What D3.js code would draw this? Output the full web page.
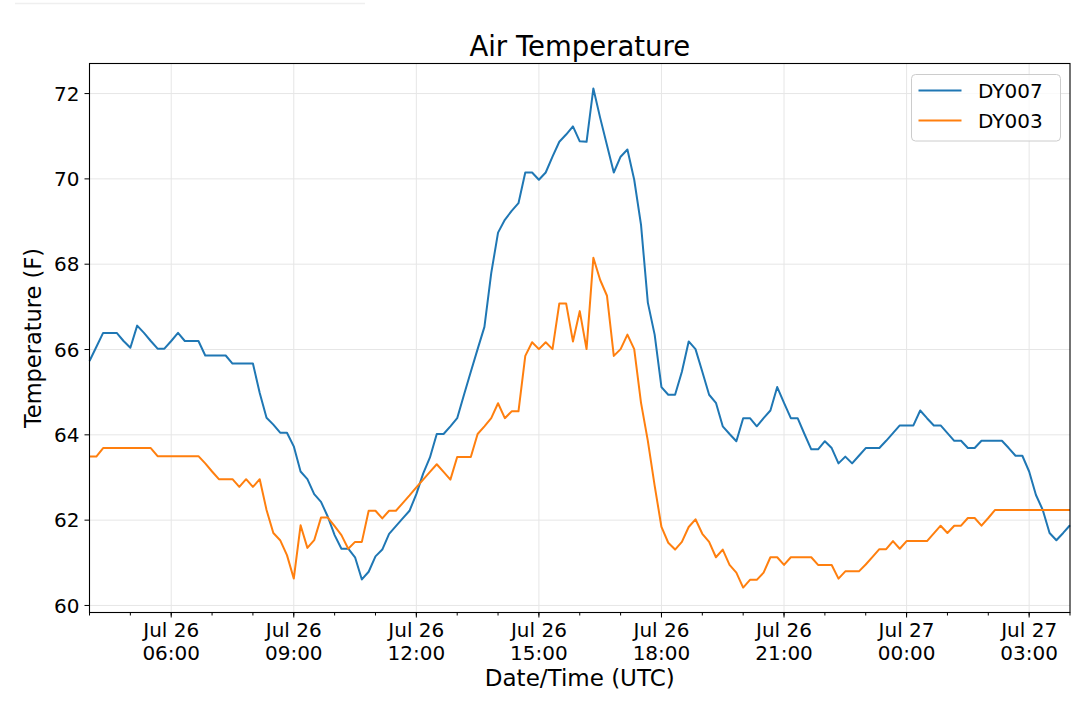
<!DOCTYPE html>
<html>
<head>
<meta charset="utf-8">
<script src="https://cdn.jsdelivr.net/npm/d3@7"></script>
<style>
  body { margin: 0; background: #fff; }
  svg { display: block; font-family: "DejaVu Sans", sans-serif; }
</style>
</head>
<body>
<div id="chart"></div>
<script>
// readings every 10 minutes, starting Jul 26 04:00 UTC
var startTime = Date.UTC(2019, 6, 26, 4, 0);
var stepMinutes = 10;

var seriesNames = ["DY007", "DY003"];
var seriesColors = ["#1f77b4", "#ff7f0e"];

var dy007 = [
  65.73, 66.06, 66.39, 66.39, 66.39, 66.2, 66.04, 66.56, 66.39, 66.2,
  66.02, 66.02, 66.2, 66.39, 66.2, 66.2, 66.2, 65.86, 65.86, 65.86,
  65.86, 65.67, 65.67, 65.67, 65.67, 64.98, 64.4, 64.24, 64.05, 64.05,
  63.73, 63.14, 62.96, 62.61, 62.43, 62.08, 61.65, 61.33, 61.33, 61.13,
  60.61, 60.79, 61.15, 61.31, 61.68, 61.86, 62.04, 62.22, 62.61, 63.09,
  63.47, 64.02, 64.02, 64.2, 64.39, 64.94, 65.48, 66.01, 66.53, 67.79,
  68.74, 69.04, 69.25, 69.43, 70.15, 70.15, 69.98, 70.15, 70.52, 70.87,
  71.04, 71.23, 70.88, 70.87, 72.12, 71.43, 70.79, 70.15, 70.52, 70.69,
  69.98, 68.92, 67.1, 66.35, 65.12, 64.94, 64.94, 65.48, 66.19, 66.01,
  65.48, 64.94, 64.75, 64.2, 64.02, 63.85, 64.39, 64.39, 64.2, 64.39,
  64.57, 65.12, 64.75, 64.39, 64.39, 64.02, 63.66, 63.66, 63.85, 63.69,
  63.33, 63.49, 63.33, 63.51, 63.69, 63.69, 63.69, 63.86, 64.04, 64.22,
  64.22, 64.22, 64.57, 64.39, 64.22, 64.22, 64.04, 63.86, 63.86, 63.69,
  63.69, 63.86, 63.86, 63.86, 63.86, 63.69, 63.51, 63.51, 63.14, 62.59,
  62.24, 61.7, 61.53, 61.7, 61.88
];

var dy003 = [
  63.49, 63.49, 63.69, 63.69, 63.69, 63.69, 63.69, 63.69, 63.69, 63.69,
  63.5, 63.5, 63.5, 63.5, 63.5, 63.5, 63.5, 63.33, 63.14, 62.96,
  62.96, 62.96, 62.78, 62.96, 62.78, 62.96, 62.24, 61.7, 61.53, 61.18,
  60.63, 61.88, 61.35, 61.53, 62.06, 62.06, 61.86, 61.65, 61.33, 61.49,
  61.49, 62.22, 62.22, 62.04, 62.22, 62.22, 62.4, 62.58, 62.77, 62.95,
  63.13, 63.31, 63.13, 62.95, 63.48, 63.48, 63.48, 64.02, 64.2, 64.39,
  64.74, 64.39, 64.55, 64.55, 65.85, 66.17, 66.01, 66.17, 66.01, 67.08,
  67.08, 66.19, 66.9, 66.01, 68.15, 67.63, 67.26, 65.85, 66.01, 66.35,
  66.01, 64.75, 63.86, 62.81, 61.84, 61.47, 61.31, 61.49, 61.84, 62.02,
  61.68, 61.49, 61.13, 61.31, 60.95, 60.77, 60.42, 60.6, 60.6, 60.77,
  61.13, 61.13, 60.95, 61.13, 61.13, 61.13, 61.13, 60.95, 60.95, 60.95,
  60.63, 60.8, 60.8, 60.8, 60.96, 61.14, 61.32, 61.32, 61.51, 61.33,
  61.51, 61.51, 61.51, 61.51, 61.69, 61.87, 61.7, 61.87, 61.87, 62.05,
  62.05, 61.87, 62.05, 62.24, 62.24, 62.24, 62.24, 62.24, 62.24, 62.24,
  62.24, 62.24, 62.24, 62.24, 62.24
];

var yTicks = [60, 62, 64, 66, 68, 70, 72];

var width = 1080, height = 701;
var margin = {top: 63.5, right: 10, bottom: 88.5, left: 89.5};
var innerW = width - margin.left - margin.right;
var innerH = height - margin.top - margin.bottom;

var series = [dy007, dy003].map(function(vals, k) {
  return {
    name: seriesNames[k],
    color: seriesColors[k],
    values: vals.map(function(v, i) {
      return {t: new Date(startTime + i * stepMinutes * 60000), v: v};
    })
  };
});

var svg = d3.select("#chart").append("svg")
  .attr("width", width)
  .attr("height", height);

// faint strip left over at the top of the screenshot
svg.append("line")
  .attr("x1", 15).attr("x2", 365).attr("y1", 3.5).attr("y2", 3.5)
  .attr("stroke", "#efefef").attr("stroke-width", 1.5);

var g = svg.append("g")
  .attr("transform", "translate(" + margin.left + "," + margin.top + ")");

var allTimes = series[0].values.map(function(d) { return d.t; });
var x = d3.scaleUtc()
  .domain(d3.extent(allTimes))
  .range([0, innerW]);

// matplotlib-like 5% margins on y
var allVals = dy007.concat(dy003);
var yMin = d3.min(allVals), yMax = d3.max(allVals);
var pad = (yMax - yMin) * 0.05;
var y = d3.scaleLinear()
  .domain([yMin - pad, yMax + pad])
  .range([innerH, 0]);

var majorTicks = x.ticks(d3.utcHour.every(3));
var minorTicks = x.ticks(d3.utcHour.every(1));

// grid
g.append("g").selectAll("line").data(majorTicks).enter().append("line")
  .attr("x1", function(d) { return x(d); })
  .attr("x2", function(d) { return x(d); })
  .attr("y1", 0).attr("y2", innerH)
  .attr("stroke", "#e6e6e6").attr("stroke-width", 1);
g.append("g").selectAll("line").data(yTicks).enter().append("line")
  .attr("x1", 0).attr("x2", innerW)
  .attr("y1", function(d) { return y(d); })
  .attr("y2", function(d) { return y(d); })
  .attr("stroke", "#e6e6e6").attr("stroke-width", 1);

// lines
var line = d3.line()
  .x(function(d) { return x(d.t); })
  .y(function(d) { return y(d.v); });

g.selectAll(".series").data(series).enter().append("path")
  .attr("class", "series")
  .attr("d", function(d) { return line(d.values); })
  .attr("fill", "none")
  .attr("stroke", function(d) { return d.color; })
  .attr("stroke-width", 2)
  .attr("stroke-linejoin", "round");

// x axis
var xAxis = g.append("g").attr("transform", "translate(0," + innerH + ")");
xAxis.selectAll(".minor").data(minorTicks).enter().append("line")
  .attr("x1", function(d) { return x(d); })
  .attr("x2", function(d) { return x(d); })
  .attr("y1", 0).attr("y2", 3)
  .attr("stroke", "#000").attr("stroke-width", 1);
xAxis.selectAll(".major").data(majorTicks).enter().append("line")
  .attr("x1", function(d) { return x(d); })
  .attr("x2", function(d) { return x(d); })
  .attr("y1", 0).attr("y2", 5)
  .attr("stroke", "#000").attr("stroke-width", 1);

var fmtDay = d3.utcFormat("%b %d");
var fmtHour = d3.utcFormat("%H:%M");
var xLabels = xAxis.selectAll(".xlabel").data(majorTicks).enter().append("text")
  .attr("text-anchor", "middle")
  .attr("font-size", 20)
  .attr("fill", "#000");
xLabels.append("tspan")
  .attr("x", function(d) { return x(d); })
  .attr("y", 24)
  .text(function(d) { return fmtDay(d); });
xLabels.append("tspan")
  .attr("x", function(d) { return x(d); })
  .attr("y", 47.5)
  .text(function(d) { return fmtHour(d); });

// y axis
var yAxis = g.append("g");
yAxis.selectAll("line").data(yTicks).enter().append("line")
  .attr("x1", -5).attr("x2", 0)
  .attr("y1", function(d) { return y(d); })
  .attr("y2", function(d) { return y(d); })
  .attr("stroke", "#000").attr("stroke-width", 1);
yAxis.selectAll("text").data(yTicks).enter().append("text")
  .attr("x", -10)
  .attr("y", function(d) { return y(d); })
  .attr("dy", "0.36em")
  .attr("text-anchor", "end")
  .attr("font-size", 20)
  .attr("fill", "#000")
  .text(function(d) { return d; });

// frame
g.append("rect")
  .attr("width", innerW).attr("height", innerH)
  .attr("fill", "none")
  .attr("stroke", "#000").attr("stroke-width", 1.1);

// titles
svg.append("text")
  .attr("x", margin.left + innerW / 2).attr("y", 56)
  .attr("text-anchor", "middle")
  .attr("font-size", 27.5)
  .text("Air Temperature");
svg.append("text")
  .attr("x", margin.left + innerW / 2).attr("y", 686)
  .attr("text-anchor", "middle")
  .attr("font-size", 23)
  .text("Date/Time (UTC)");
svg.append("text")
  .attr("transform", "translate(41," + (margin.top + innerH / 2) + ") rotate(-90)")
  .attr("text-anchor", "middle")
  .attr("font-size", 22.5)
  .text("Temperature (F)");

// legend
var legend = svg.append("g").attr("transform", "translate(911.5,74.5)");
legend.append("rect")
  .attr("width", 149).attr("height", 66.5)
  .attr("rx", 4).attr("ry", 4)
  .attr("fill", "#fff").attr("fill-opacity", 0.8)
  .attr("stroke", "#cccccc").attr("stroke-width", 1);
var items = legend.selectAll(".item").data(series).enter().append("g")
  .attr("transform", function(d, i) { return "translate(0," + (16 + i * 30) + ")"; });
items.append("line")
  .attr("x1", 7).attr("x2", 50)
  .attr("stroke", function(d) { return d.color; })
  .attr("stroke-width", 2);
items.append("text")
  .attr("x", 66.5).attr("dy", "0.36em")
  .attr("font-size", 20)
  .text(function(d) { return d.name; });
</script>
</body>
</html>
